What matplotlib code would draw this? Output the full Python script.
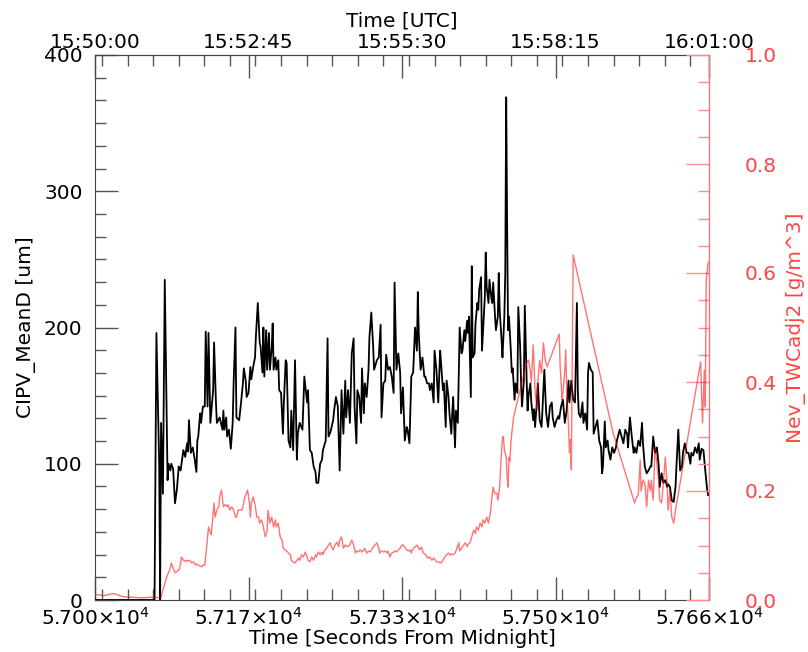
import matplotlib
matplotlib.use("Agg")
import matplotlib.pyplot as plt
from matplotlib.ticker import MultipleLocator, FuncFormatter

# CIPV mean diameter [um] vs seconds from midnight
cip_time = [57000, 57064, 57066, 57069, 57070, 57071, 57073, 57075, 57078, 57079,
            57081, 57082, 57084, 57086, 57088, 57090, 57092, 57095, 57097, 57099,
            57100, 57101, 57103, 57105, 57107, 57109, 57110, 57111, 57113, 57114,
            57116, 57118, 57119, 57121, 57122, 57124, 57127, 57128, 57130, 57131,
            57134, 57137, 57138, 57139, 57141, 57142, 57144, 57146, 57148, 57149,
            57151, 57152, 57155, 57157, 57159, 57160, 57162, 57163, 57165, 57167,
            57168, 57170, 57172, 57173, 57175, 57177, 57178, 57180, 57181, 57182,
            57184, 57185, 57187, 57188, 57190, 57191, 57192, 57194, 57195, 57197,
            57198, 57200, 57202, 57203, 57205, 57206, 57208, 57210, 57211, 57213,
            57215, 57217, 57218, 57220, 57223, 57224, 57225, 57228, 57229, 57231,
            57233, 57235, 57237, 57238, 57240, 57242, 57244, 57245, 57248, 57250,
            57251, 57253, 57256, 57257, 57259, 57261, 57263, 57265, 57267, 57269,
            57270, 57272, 57274, 57276, 57278, 57279, 57281, 57282, 57284, 57286,
            57287, 57289, 57290, 57292, 57294, 57295, 57297, 57299, 57300, 57303,
            57305, 57307, 57308, 57310, 57312, 57313, 57315, 57317, 57319, 57321,
            57322, 57324, 57326, 57328, 57329, 57331, 57333, 57335, 57336, 57338,
            57340, 57342, 57344, 57346, 57347, 57348, 57350, 57352, 57354, 57355,
            57357, 57359, 57360, 57362, 57364, 57365, 57367, 57369, 57371, 57372,
            57374, 57375, 57377, 57378, 57380, 57381, 57383, 57384, 57385, 57387,
            57388, 57390, 57391, 57392, 57394, 57395, 57397, 57398, 57400, 57401,
            57402, 57404, 57405, 57406, 57408, 57409, 57411, 57412, 57413, 57415,
            57416, 57417, 57419, 57420, 57421, 57423, 57424, 57426, 57427, 57428,
            57430, 57431, 57433, 57434, 57435, 57437, 57438, 57440, 57441, 57442,
            57443, 57444, 57445, 57447, 57448, 57449, 57451, 57452, 57454, 57455,
            57457, 57458, 57459, 57461, 57462, 57464, 57465, 57466, 57468, 57469,
            57471, 57472, 57473, 57475, 57476, 57478, 57480, 57481, 57483, 57485,
            57487, 57489, 57491, 57492, 57494, 57496, 57498, 57499, 57501, 57503,
            57505, 57507, 57509, 57510, 57512, 57514, 57516, 57518, 57519, 57520,
            57522, 57524, 57525, 57527, 57529, 57530, 57531, 57533, 57535, 57536,
            57538, 57540, 57542, 57544, 57545, 57546, 57548, 57549, 57551, 57552,
            57554, 57556, 57558, 57560, 57561, 57564, 57568, 57570, 57572, 57573,
            57575, 57577, 57579, 57580, 57582, 57584, 57586, 57588, 57589, 57591,
            57593, 57595, 57597, 57598, 57600, 57602, 57604, 57606, 57607, 57609,
            57611, 57613, 57615, 57616, 57618, 57620, 57622, 57624, 57625, 57627,
            57629, 57631, 57632, 57634, 57636, 57638, 57640, 57641, 57643, 57645,
            57647, 57649, 57650, 57652, 57654, 57656, 57658, 57659]
cip_meand = [0, 0, 196, 100, 0, 130, 78, 235, 88, 100,
             95, 100, 96, 71, 81, 98, 95, 110, 105, 115,
             109, 132, 108, 112, 104, 94, 117, 120, 137, 130,
             142, 142, 197, 142, 196, 130, 154, 189, 145, 130,
             134, 125, 139, 125, 134, 120, 125, 111, 130, 159,
             200, 134, 132, 145, 159, 170, 161, 149, 152, 171,
             162, 171, 178, 194, 218, 189, 186, 167, 200, 164,
             198, 169, 196, 169, 186, 203, 169, 178, 169, 176,
             154, 152, 122, 145, 176, 174, 117, 112, 139, 110,
             176, 103, 122, 130, 125, 145, 164, 145, 154, 110,
             108, 98, 94, 86, 86, 100, 103, 110, 117, 192,
             120, 123, 132, 139, 149, 142, 95, 154, 122, 161,
             134, 154, 130, 181, 192, 142, 115, 154, 149, 130,
             170, 137, 159, 149, 169, 193, 211, 186, 169, 176,
             178, 202, 134, 159, 161, 180, 169, 171, 164, 152,
             233, 169, 181, 167, 137, 156, 117, 127, 125, 115,
             164, 167, 200, 183, 226, 196, 169, 178, 164, 164,
             159, 159, 154, 159, 145, 183, 169, 145, 183, 174,
             154, 159, 127, 161, 149, 137, 122, 137, 149, 112,
             139, 130, 167, 200, 181, 183, 198, 190, 205, 196,
             208, 149, 245, 178, 181, 203, 218, 213, 228, 237,
             183, 196, 222, 255, 230, 218, 235, 222, 218, 233,
             208, 198, 208, 240, 213, 191, 178, 208, 240, 369,
             277, 198, 208, 183, 167, 170, 147, 159, 152, 215,
             186, 159, 142, 161, 216, 161, 139, 150, 159, 145,
             132, 140, 127, 145, 159, 132, 127, 140, 169, 137,
             127, 142, 145, 134, 127, 132, 135, 133, 142, 147,
             130, 139, 161, 145, 161, 147, 145, 218, 154, 137,
             134, 145, 130, 137, 125, 167, 174, 169, 167, 122,
             127, 132, 117, 112, 93, 98, 131, 112, 117, 110,
             103, 112, 108, 112, 117, 125, 115, 125, 122, 112,
             134, 120, 108, 112, 108, 117, 113, 130, 115, 98,
             93, 95, 98, 98, 120, 108, 112, 98, 83, 93,
             86, 88, 83, 85, 83, 73, 72, 83, 98, 125,
             95, 98, 108, 115, 108, 108, 100, 108, 106, 112,
             108, 115, 103, 111, 110, 95, 81, 77]

# Nevzorov adjusted total water content [g/m^3]
twc_time = [57000, 57010, 57020, 57030, 57040, 57050, 57060, 57071, 57073, 57077,
            57081, 57082, 57084, 57086, 57088, 57090, 57091, 57093, 57095, 57097,
            57099, 57100, 57102, 57104, 57106, 57108, 57109, 57111, 57113, 57115,
            57116, 57118, 57120, 57122, 57124, 57125, 57127, 57128, 57129, 57131,
            57133, 57134, 57136, 57138, 57140, 57142, 57143, 57145, 57147, 57149,
            57151, 57152, 57154, 57156, 57158, 57159, 57161, 57163, 57164, 57166,
            57167, 57168, 57170, 57172, 57174, 57176, 57177, 57179, 57181, 57183,
            57185, 57186, 57188, 57190, 57192, 57194, 57195, 57197, 57199, 57201,
            57202, 57204, 57206, 57208, 57210, 57211, 57213, 57215, 57217, 57219,
            57220, 57222, 57224, 57226, 57228, 57229, 57231, 57233, 57235, 57237,
            57238, 57240, 57242, 57244, 57245, 57247, 57249, 57251, 57253, 57254,
            57256, 57258, 57260, 57262, 57263, 57265, 57267, 57269, 57271, 57272,
            57274, 57276, 57278, 57280, 57281, 57283, 57285, 57287, 57288, 57290,
            57292, 57294, 57296, 57297, 57299, 57301, 57303, 57305, 57306, 57308,
            57310, 57312, 57314, 57315, 57317, 57319, 57321, 57323, 57324, 57326,
            57328, 57330, 57331, 57333, 57335, 57337, 57339, 57340, 57342, 57344,
            57346, 57348, 57349, 57351, 57353, 57355, 57357, 57358, 57360, 57362,
            57364, 57366, 57367, 57369, 57371, 57373, 57374, 57376, 57378, 57380,
            57382, 57383, 57385, 57387, 57389, 57391, 57392, 57394, 57396, 57398,
            57400, 57401, 57403, 57405, 57407, 57409, 57410, 57412, 57414, 57416,
            57417, 57419, 57421, 57423, 57425, 57426, 57428, 57429, 57430, 57432,
            57433, 57435, 57436, 57438, 57439, 57440, 57442, 57443, 57444, 57445,
            57446, 57447, 57448, 57450, 57464, 57466, 57468, 57469, 57471, 57473,
            57475, 57476, 57478, 57480, 57482, 57484, 57486, 57499, 57500, 57501,
            57502, 57503, 57505, 57506, 57507, 57509, 57510, 57511, 57512, 57514,
            57557, 57580, 57582, 57584, 57586, 57587, 57589, 57591, 57593, 57595,
            57597, 57598, 57600, 57602, 57604, 57606, 57607, 57609, 57611, 57613,
            57615, 57616, 57618, 57620, 57622, 57624, 57651, 57653, 57655, 57656,
            57657, 57658, 57659, 57660]
twc = [0.010, 0.008, 0.012, 0.006, 0.005, 0.004, 0.005, 0.004, 0.018, 0.042,
       0.059, 0.068, 0.059, 0.050, 0.052, 0.055, 0.058, 0.079, 0.073, 0.071,
       0.073, 0.071, 0.073, 0.068, 0.070, 0.064, 0.066, 0.064, 0.062, 0.061,
       0.064, 0.064, 0.097, 0.134, 0.123, 0.120, 0.160, 0.178, 0.152, 0.165,
       0.171, 0.189, 0.202, 0.171, 0.175, 0.171, 0.175, 0.165, 0.171, 0.165,
       0.152, 0.152, 0.165, 0.165, 0.165, 0.171, 0.189, 0.196, 0.202, 0.178,
       0.152, 0.178, 0.189, 0.175, 0.152, 0.152, 0.141, 0.147, 0.134, 0.116,
       0.126, 0.165, 0.141, 0.152, 0.134, 0.147, 0.134, 0.141, 0.116, 0.110,
       0.097, 0.092, 0.090, 0.086, 0.083, 0.073, 0.070, 0.068, 0.073, 0.077,
       0.073, 0.083, 0.079, 0.088, 0.079, 0.073, 0.070, 0.079, 0.073, 0.083,
       0.079, 0.088, 0.083, 0.088, 0.083, 0.092, 0.095, 0.101, 0.105, 0.098,
       0.092, 0.101, 0.106, 0.098, 0.110, 0.116, 0.095, 0.101, 0.098, 0.098,
       0.101, 0.110, 0.101, 0.086, 0.090, 0.088, 0.092, 0.088, 0.090, 0.095,
       0.086, 0.090, 0.088, 0.092, 0.097, 0.101, 0.105, 0.095, 0.086, 0.090,
       0.088, 0.090, 0.086, 0.090, 0.079, 0.086, 0.088, 0.090, 0.088, 0.092,
       0.095, 0.101, 0.101, 0.097, 0.092, 0.090, 0.092, 0.086, 0.095, 0.097,
       0.101, 0.095, 0.092, 0.097, 0.086, 0.084, 0.079, 0.077, 0.079, 0.073,
       0.077, 0.073, 0.070, 0.070, 0.068, 0.070, 0.073, 0.079, 0.083, 0.086,
       0.082, 0.084, 0.083, 0.086, 0.095, 0.105, 0.090, 0.095, 0.100, 0.105,
       0.098, 0.102, 0.105, 0.116, 0.128, 0.122, 0.134, 0.128, 0.141, 0.134,
       0.147, 0.141, 0.152, 0.141, 0.160, 0.178, 0.207, 0.200, 0.195, 0.196,
       0.183, 0.207, 0.244, 0.299, 0.300, 0.275, 0.262, 0.226, 0.207, 0.262,
       0.255, 0.288, 0.306, 0.336, 0.435, 0.440, 0.420, 0.400, 0.468, 0.385,
       0.350, 0.400, 0.440, 0.416, 0.472, 0.440, 0.428, 0.488, 0.428, 0.400,
       0.367, 0.380, 0.420, 0.459, 0.390, 0.317, 0.270, 0.294, 0.239, 0.633,
       0.306, 0.178, 0.188, 0.193, 0.257, 0.200, 0.220, 0.215, 0.171, 0.220,
       0.200, 0.220, 0.183, 0.281, 0.250, 0.215, 0.183, 0.178, 0.215, 0.262,
       0.215, 0.165, 0.200, 0.152, 0.141, 0.165, 0.437, 0.325, 0.422, 0.354,
       0.587, 0.600, 0.618, 0.620]

x_ticks = [57000, 57165, 57330, 57495, 57660]


def sci_label(v, pos):
    m = int(v / 10 + 0.5) / 1000.0
    return "%.3f×10$^{4}$" % m


def utc_label(v, pos):
    s = int(round(v))
    return "%02d:%02d:%02d" % (s // 3600, (s // 60) % 60, s % 60)


plt.rcParams['font.family'] = 'DejaVu Sans'
plt.rcParams['mathtext.default'] = 'regular'
fs = 14.5
tick_grey = '#555555'
pink = '#ff8c8c'
red_txt = '#ff4545'

fig = plt.figure(figsize=(8.08, 6.52), dpi=100)
ax = fig.add_axes([95 / 808, 52 / 652, 614 / 808, 545 / 652])

ax.plot(cip_time, cip_meand, color='black', lw=1.3, zorder=3)
ax.set_xlim(57000, 57660)
ax.set_ylim(0, 400)

ax.xaxis.set_major_locator(plt.FixedLocator(x_ticks))
ax.xaxis.set_minor_locator(MultipleLocator(27.5))
ax.xaxis.set_major_formatter(FuncFormatter(sci_label))
ax.yaxis.set_major_locator(MultipleLocator(100))
ax.yaxis.set_minor_locator(MultipleLocator(100 / 6))

ax.tick_params(axis='both', which='major', direction='in', length=16.5, width=1,
               color=tick_grey, labelsize=fs)
ax.tick_params(axis='both', which='minor', direction='in', length=8, width=1,
               color=tick_grey)
ax.tick_params(axis='x', which='both', top=False, pad=5)
ax.tick_params(axis='y', which='both', right=False, pad=9)
ax.set_xlabel('Time [Seconds From Midnight]', fontsize=fs, labelpad=0)
ax.set_ylabel('CIPV_MeanD [um]', fontsize=fs, labelpad=6)
for side in ['left', 'bottom', 'top']:
    ax.spines[side].set_color('#444444')

# UTC axis on top
top = ax.secondary_xaxis('top')
top.xaxis.set_major_locator(plt.FixedLocator(x_ticks))
top.xaxis.set_minor_locator(MultipleLocator(27.5))
top.xaxis.set_major_formatter(FuncFormatter(utc_label))
top.tick_params(which='major', direction='in', length=16.5, width=1,
                color=tick_grey, labelsize=fs, pad=2)
top.tick_params(which='minor', direction='in', length=8, width=1, color=tick_grey)
top.set_xlabel('Time [UTC]', fontsize=fs, labelpad=5)
top.spines['top'].set_color('#666666')

# water content on right
ax2 = ax.twinx()
ax2.plot(twc_time, twc, color='red', alpha=0.55, lw=1.0, zorder=4)
ax2.set_ylim(0, 1.0)
ax2.yaxis.set_major_locator(MultipleLocator(0.2))
ax2.yaxis.set_minor_locator(MultipleLocator(0.05))
ax2.yaxis.set_major_formatter(FuncFormatter(lambda v, p: "%.1f" % v))
ax2.tick_params(axis='y', which='major', direction='in', length=16.5, width=1,
                color=pink, labelcolor=red_txt, labelsize=fs, pad=26)
ax2.tick_params(axis='y', which='minor', direction='in', length=8, width=1,
                color=pink)
ax2.set_ylabel('Nev_TWCadj2 [g/m^3]', fontsize=fs, color=red_txt, labelpad=6)
ax2.spines['right'].set_color('#ff7070')
for side in ['left', 'bottom', 'top']:
    ax2.spines[side].set_visible(False)

fig.savefig('out.png', dpi=100)
